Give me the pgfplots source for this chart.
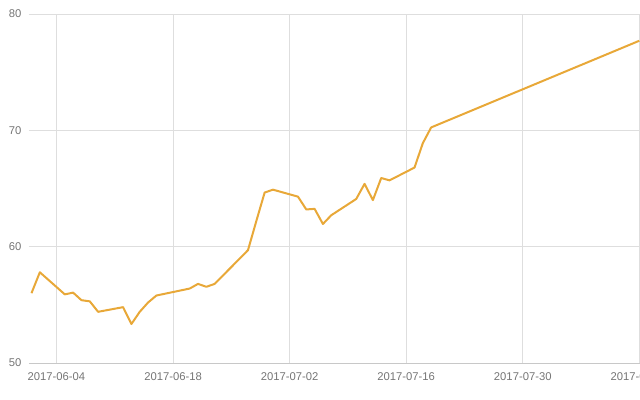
\documentclass[border=0pt]{standalone}
\usepackage{fontspec}
\setmainfont{Liberation Sans}
\usepackage{pgfplots}
\pgfplotsset{compat=1.18}
\definecolor{lineorange}{RGB}{232,168,56}
\definecolor{labelgray}{RGB}{117,117,117}
\definecolor{gridgray}{RGB}{222,222,222}
\definecolor{basegray}{RGB}{200,200,200}

\begin{document}
\begin{tikzpicture}
\begin{axis}[
  scale only axis,
  width=612bp, height=349bp,
  xmin=-0.3, xmax=73.2,
  ymin=50, ymax=80,
  axis x line=bottom,
  axis y line=left,
  axis line style={-},
  x axis line style={draw=basegray, line width=0.9bp},
  y axis line style={draw=none},
  major tick length=0pt,
  xtick={3,17,31,45,59,73},
  xticklabels={2017-06-04,2017-06-18,2017-07-02,2017-07-16,2017-07-30,2017-08-13},
  ytick={50,60,70,80},
  grid=major,
  grid style={draw=gridgray, line width=0.9bp},
  tick label style={font=\fontsize{11.3}{13}\selectfont, text=labelgray},
  /pgf/number format/assume math mode=true,
  xticklabel style={yshift=-6bp},
  yticklabel style={anchor=east, xshift=-4bp},
  clip=false,
]
\addplot[color=lineorange, line width=2bp, line join=round] coordinates {
  (0,56.0) (1,57.8) (4,55.9) (5,56.05) (6,55.4) (7,55.3) (8,54.4)
  (11,54.8) (12,53.35) (13,54.4) (14,55.2) (15,55.8) (17,56.1)
  (19,56.4) (20,56.8) (21,56.55) (22,56.8) (26,59.7) (27,62.2)
  (28,64.65) (29,64.9) (32,64.3) (33,63.2) (34,63.25) (35,61.95)
  (36,62.7) (39,64.1) (40,65.4) (41,64.0) (42,65.9) (43,65.7)
  (46,66.8) (47,68.9) (48,70.25) (73,77.7)
};
\end{axis}
\pgfresetboundingbox
\useasboundingbox (-29bp,-37bp) rectangle (611bp,363bp);
\end{tikzpicture}
\end{document}
